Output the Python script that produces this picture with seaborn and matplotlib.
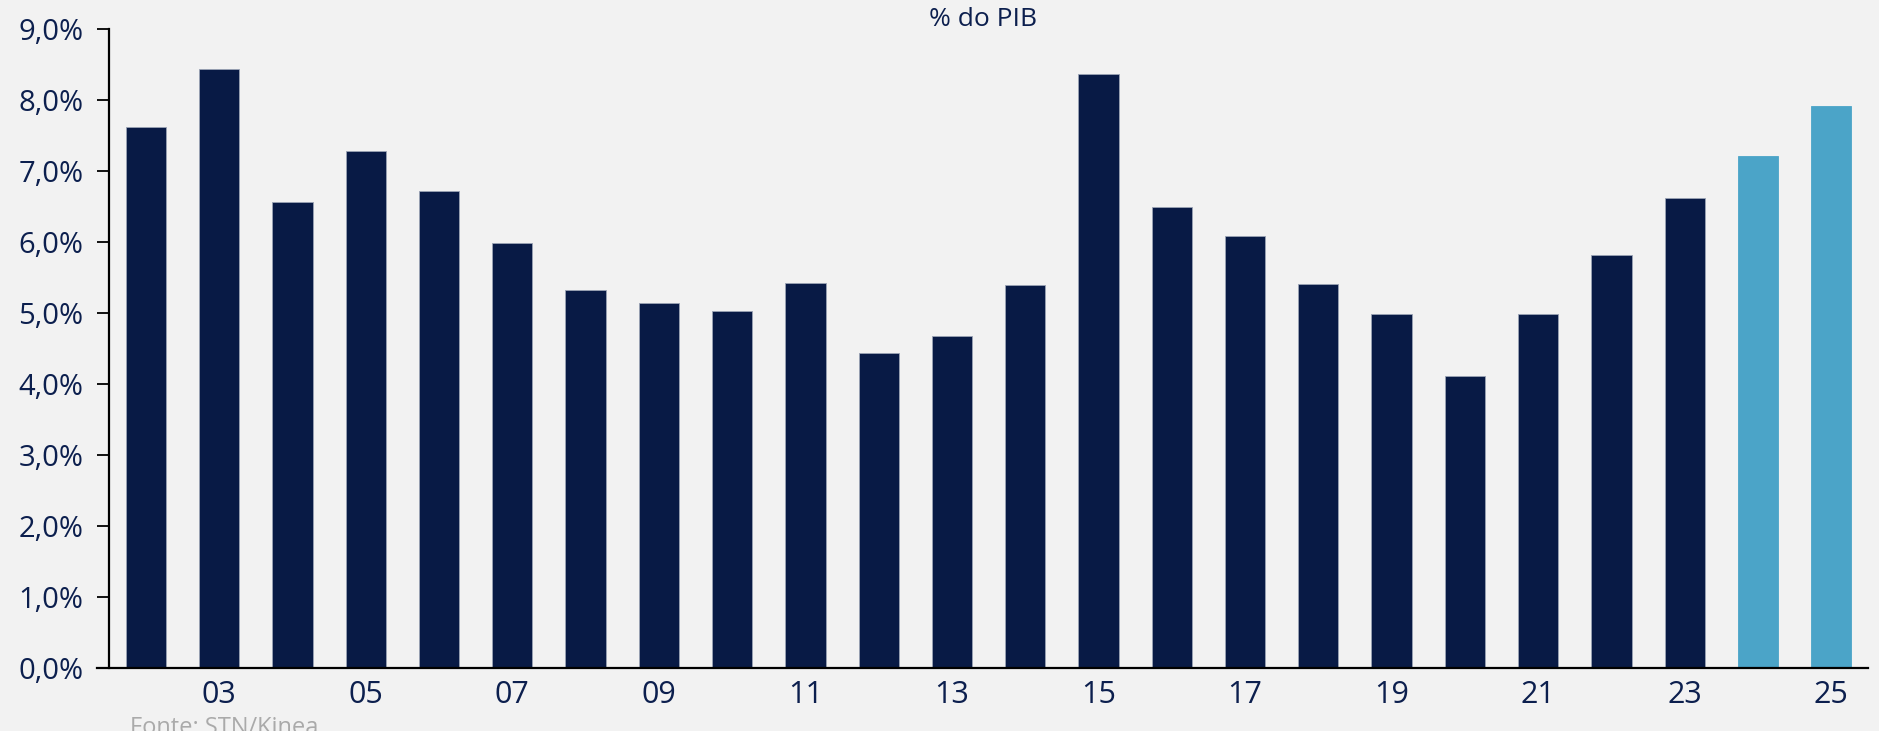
import pandas as pd
import matplotlib
matplotlib.use("Agg")
import matplotlib.pyplot as plt
import seaborn as sns

# Data (% of GDP)
years = ["02", "03", "04", "05", "06", "07", "08", "09", "10", "11", "12", "13",
         "14", "15", "16", "17", "18", "19", "20", "21", "22", "23", "24", "25"]
values = [7.62, 8.43, 6.56, 7.28, 6.72, 5.98, 5.32, 5.14, 5.03, 5.42, 4.44, 4.67,
          5.40, 8.37, 6.49, 6.08, 5.41, 4.98, 4.11, 4.99, 5.82, 6.62, 7.21, 7.92]
kind = ["real"] * 22 + ["proj"] * 2
yticks = [0, 1, 2, 3, 4, 5, 6, 7, 8, 9]

navy = "#081A45"
light = "#4BA4C8"
text_col = "#0C1F4E"
bg = "#F2F2F2"

df = pd.DataFrame({"ano": years, "valor": values, "tipo": kind})

sns.set_style("white")
plt.rcParams["font.family"] = ["Open Sans", "DejaVu Sans"]

fig = plt.figure(figsize=(18.79, 7.31), dpi=100, facecolor=bg)
ax = fig.add_axes([0.0517, 0.0862, 0.9424, 0.8741])
ax.set_facecolor(bg)

sns.barplot(data=df, x="ano", y="valor", hue="tipo", palette={"real": navy, "proj": light},
            width=0.55, dodge=False, legend=False, saturation=1,
            edgecolor="#9AA3B5", linewidth=0.6, ax=ax)
for p in ax.patches:
    if p.get_facecolor()[:3] == matplotlib.colors.to_rgb(light):
        p.set_edgecolor(light)

ax.set_ylim(0, 9)
ax.set_xlim(-0.665, 23.5)
ax.set_yticks(yticks)
ax.set_yticklabels([f"{v},0%" for v in yticks])
ax.set_xticks(range(len(years)))
ax.set_xticklabels([y if i % 2 == 1 else "" for i, y in enumerate(years)])

ax.spines["top"].set_visible(False)
ax.spines["right"].set_visible(False)
ax.spines["left"].set_position(("data", -0.5))
for s in ["left", "bottom"]:
    ax.spines[s].set_color("black")
    ax.spines[s].set_linewidth(1.6)

ax.tick_params(axis="y", length=8.5, width=1.3, color="black", labelsize=21,
               labelcolor=text_col, pad=10, left=True)
ax.tick_params(axis="x", length=0, labelsize=22, labelcolor=text_col, pad=9)
ax.set_xlabel("")
ax.set_ylabel("")
ax.set_title("% do PIB", fontsize=19, color=text_col, pad=2)

fig.text(0.069, -0.012, "Fonte: STN/Kinea", fontsize=17, color="#AAAAAA", ha="left", va="bottom")

fig.savefig("out.png", dpi=100, facecolor=bg)
